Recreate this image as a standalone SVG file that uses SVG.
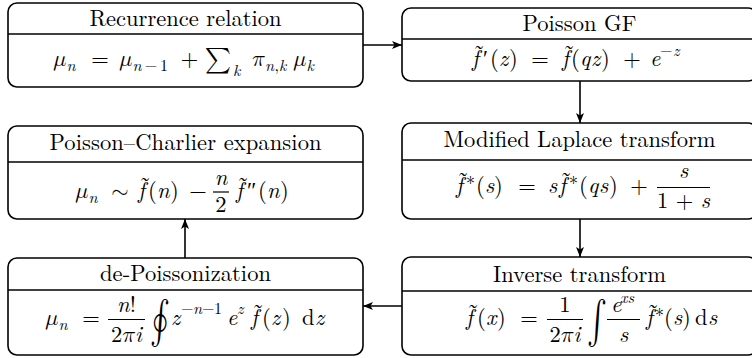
<svg xmlns="http://www.w3.org/2000/svg" width="752" height="358" viewBox="0 0 752 358">
<defs>
<marker id="ah" viewBox="0 0 10 8" refX="10" refY="4" markerWidth="10" markerHeight="8" orient="auto" markerUnits="userSpaceOnUse">
<path d="M0,0 L10,4 L0,8 L2.5,4 z" fill="#000"/>
</marker>
</defs>
<style>
.box{fill:#fff;stroke:#000;stroke-width:1.6}
.dv{stroke:#000;stroke-width:1.6}
.t{font-size:22.5px;text-anchor:middle}
.i{font-size:22.5px;font-style:italic}
.r{font-size:22.5px}
.si{font-size:16px;font-style:italic}
.sr{font-size:16px}
.c{text-anchor:middle}
.tl{font-size:24px;text-anchor:middle}
.ast{font-size:18px}
.int{font-size:30px}
.con{stroke:#000;stroke-width:1.6;fill:none;marker-end:url(#ah)}
.bar{stroke:#000;stroke-width:1.2}
</style>
<rect width="752" height="358" fill="#fff"/>

<g id="recurrence" font-family="Latin Modern Roman">
<rect class="box" x="8" y="3" width="355" height="84" rx="9"/>
<line class="dv" x1="8" y1="34" x2="363" y2="34"/>
<text class="t" x="185.5" y="26" textLength="192" lengthAdjust="spacing">Recurrence relation</text>
<text class="r" font-family="Latin Modern Math" x="53" y="66">𝜇</text>
<text class="si" x="66.5" y="71">n</text>
<text class="r c" x="100" y="66">=</text>
<text class="r" font-family="Latin Modern Math" x="119" y="66">𝜇</text>
<text class="si" x="132.5" y="71">n</text>
<text class="sr c" x="151" y="71">−</text>
<text class="sr" x="160" y="71">1</text>
<text class="r c" x="189.5" y="66">+</text>
<text class="c" font-family="Latin Modern Math" style="font-size:25px" x="218" y="67">∑</text>
<text class="si" x="233" y="76">k</text>
<text class="r" font-family="Latin Modern Math" x="252" y="66">𝜋</text>
<text class="si" x="265" y="71">n</text>
<text class="sr" x="274.5" y="71">,</text>
<text class="si" x="279" y="71">k</text>
<text class="r" font-family="Latin Modern Math" x="293" y="66">𝜇</text>
<text class="si" x="306.5" y="71">k</text>
</g>

<g id="poisson-gf" font-family="Latin Modern Roman">
<rect class="box" x="402" y="8" width="355" height="73" rx="9"/>
<line class="dv" x1="402" y1="39" x2="757" y2="39"/>
<text class="t" x="579.5" y="31" textLength="114" lengthAdjust="spacing">Poisson GF</text>
<text class="i" x="472" y="66">f</text>
<text class="tl" x="479" y="62">˜</text>
<text class="r" font-family="Liberation Serif" x="483" y="66">′</text>
<text class="r" x="490" y="66">(</text>
<text class="i" x="499" y="66">z</text>
<text class="r" x="509" y="66">)</text>
<text class="r c" x="540" y="66">=</text>
<text class="i" x="562" y="66">f</text>
<text class="tl" x="569" y="62">˜</text>
<text class="r" x="571" y="66">(</text>
<text class="i" x="580" y="66">q</text>
<text class="i" x="591" y="66">z</text>
<text class="r" x="601" y="66">)</text>
<text class="r c" x="632" y="66">+</text>
<text class="i" x="650" y="66">e</text>
<text class="sr" x="660" y="56">−</text>
<text class="si" x="673" y="56">z</text>
</g>

<g id="poisson-charlier" font-family="Latin Modern Roman">
<rect class="box" x="8" y="126" width="355" height="93" rx="9"/>
<line class="dv" x1="8" y1="162" x2="363" y2="162"/>
<text class="t" x="185.5" y="150" textLength="272" lengthAdjust="spacing">Poisson–Charlier expansion</text>
<text class="r" font-family="Latin Modern Math" x="75" y="198">𝜇</text>
<text class="si" x="88.5" y="203">n</text>
<text class="r c" font-family="Latin Modern Math" x="120" y="198">∼</text>
<text class="i" x="138" y="198">f</text>
<text class="tl" x="145" y="194">˜</text>
<text class="r" x="148" y="198">(</text>
<text class="i" x="157" y="198">n</text>
<text class="r" x="170" y="198">)</text>
<text class="r c" x="198" y="198">−</text>
<line class="bar" x1="213" y1="192" x2="229" y2="192"/>
<text class="i c" x="221" y="185">n</text>
<text class="r c" x="221" y="212">2</text>
<text class="i" x="236" y="198">f</text>
<text class="tl" x="243" y="194">˜</text>
<text class="r" font-family="Liberation Serif" x="247" y="198">″</text>
<text class="r" x="258" y="198">(</text>
<text class="i" x="267" y="198">n</text>
<text class="r" x="280" y="198">)</text>
</g>

<g id="laplace" font-family="Latin Modern Roman">
<rect class="box" x="402" y="123" width="355" height="96" rx="9"/>
<line class="dv" x1="402" y1="160" x2="757" y2="160"/>
<text class="t" x="579.5" y="147" textLength="272" lengthAdjust="spacing">Modified Laplace transform</text>
<text class="i" x="456" y="193">f</text>
<text class="tl" x="463" y="189">˜</text>
<text class="ast" x="466" y="190">*</text>
<text class="r" x="476" y="193">(</text>
<text class="i" x="485" y="193">s</text>
<text class="r" x="494" y="193">)</text>
<text class="r c" x="527" y="193">=</text>
<text class="i" x="548" y="193">s</text>
<text class="i" x="559" y="193">f</text>
<text class="tl" x="566" y="189">˜</text>
<text class="ast" x="569" y="190">*</text>
<text class="r" x="579" y="193">(</text>
<text class="i" x="588" y="193">q</text>
<text class="i" x="599" y="193">s</text>
<text class="r" x="609" y="193">)</text>
<text class="r c" x="639" y="193">+</text>
<line class="bar" x1="657" y1="187.5" x2="710" y2="187.5"/>
<text class="i c" x="683.5" y="178">s</text>
<text class="r c" x="683.5" y="208">1 + <tspan font-style="italic">s</tspan></text>
</g>

<g id="depoissonization" font-family="Latin Modern Roman">
<rect class="box" x="8" y="258" width="355" height="97" rx="9"/>
<line class="dv" x1="8" y1="290" x2="363" y2="290"/>
<text class="t" x="185.5" y="281" textLength="171" lengthAdjust="spacing">de-Poissonization</text>
<text class="r" font-family="Latin Modern Math" x="45" y="325">𝜇</text>
<text class="si" x="58.5" y="330">n</text>
<text class="r c" x="91" y="325">=</text>
<line class="bar" x1="108" y1="319.5" x2="145" y2="319.5"/>
<text class="r c" x="126.5" y="312"><tspan font-style="italic">n</tspan>!</text>
<text class="r c" x="126.5" y="342">2<tspan font-family="Latin Modern Math">𝜋</tspan><tspan font-style="italic">i</tspan></text>
<text class="int" font-family="Latin Modern Math" transform="translate(150,334) scale(1,1.45)">∮</text>
<text class="i" x="171" y="325">z</text>
<text class="sr" x="181" y="314">−</text>
<text class="si" x="193" y="314">n</text>
<text class="sr" x="202" y="314">−</text>
<text class="sr" x="214" y="314">1</text>
<text class="i" x="227" y="325">e</text>
<text class="si" x="237" y="314">z</text>
<text class="i" x="251" y="325">f</text>
<text class="tl" x="258" y="321">˜</text>
<text class="r" x="262" y="325">(</text>
<text class="i" x="271" y="325">z</text>
<text class="r" x="282" y="325">)</text>
<text class="r" x="302" y="325">d</text>
<text class="i" x="315" y="325">z</text>
</g>

<g id="inverse" font-family="Latin Modern Roman">
<rect class="box" x="402" y="257" width="355" height="98" rx="9"/>
<line class="dv" x1="402" y1="291" x2="757" y2="291"/>
<text class="t" x="579.5" y="282" textLength="173" lengthAdjust="spacing">Inverse transform</text>
<text class="i" x="466" y="325">f</text>
<text class="tl" x="473" y="321">˜</text>
<text class="r" x="477" y="325">(</text>
<text class="i" x="486" y="325">x</text>
<text class="r" x="497" y="325">)</text>
<text class="r c" x="529" y="325">=</text>
<line class="bar" x1="547" y1="319.5" x2="583" y2="319.5"/>
<text class="r c" x="565" y="312">1</text>
<text class="r c" x="565" y="342">2<tspan font-family="Latin Modern Math">𝜋</tspan><tspan font-style="italic">i</tspan></text>
<text class="int" font-family="Latin Modern Math" transform="translate(587,334) scale(1,1.45)">∫</text>
<line class="bar" x1="607" y1="319.5" x2="640" y2="319.5"/>
<text class="i" x="611" y="312">e</text>
<text class="si" x="620" y="303">xs</text>
<text class="i c" x="623.5" y="342">s</text>
<text class="i" x="646" y="325">f</text>
<text class="tl" x="653" y="321">˜</text>
<text class="ast" x="655" y="322">*</text>
<text class="r" x="664" y="325">(</text>
<text class="i" x="673" y="325">s</text>
<text class="r" x="682" y="325">)</text>
<text class="r" x="695" y="325">d</text>
<text class="i" x="708" y="325">s</text>
</g>

<g id="connectors">
<line class="con" x1="363" y1="45" x2="402" y2="45"/>
<line class="con" x1="580" y1="81" x2="580" y2="123"/>
<line class="con" x1="580" y1="219" x2="580" y2="257"/>
<line class="con" x1="402" y1="306" x2="363" y2="306"/>
<line class="con" x1="185" y1="258" x2="185" y2="219"/>
</g>
</svg>
